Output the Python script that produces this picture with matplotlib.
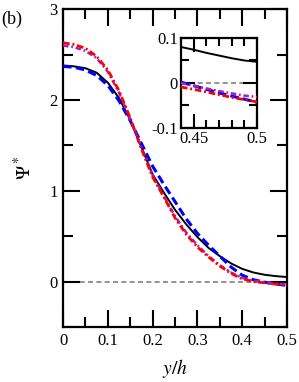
import numpy as np
import matplotlib
matplotlib.use('Agg')
import matplotlib.pyplot as plt
from matplotlib.ticker import MultipleLocator

plt.rcParams['font.family'] = ['Liberation Serif', 'DejaVu Serif']
plt.rcParams['mathtext.fontset'] = 'stix'

# ---- data ----------------------------------------------------------------------
y_h = [0.0, 0.025, 0.05, 0.075, 0.1, 0.125, 0.15, 0.175, 0.2, 0.225, 0.25,
       0.275, 0.3, 0.325, 0.35, 0.375, 0.4, 0.425, 0.45, 0.475, 0.5]

psi_black = [2.38, 2.37, 2.35, 2.30, 2.19, 2.02, 1.78, 1.48, 1.18, 0.98, 0.79,
             0.63, 0.49, 0.37, 0.28, 0.20, 0.14, 0.10, 0.075, 0.06, 0.05]
psi_blue = [2.37, 2.36, 2.33, 2.27, 2.16, 1.99, 1.77, 1.52, 1.27, 1.07, 0.88,
            0.69, 0.53, 0.40, 0.28, 0.16, 0.07, 0.02, -0.006, -0.026, -0.042]
psi_red = [2.63, 2.61, 2.57, 2.48, 2.33, 2.10, 1.80, 1.46, 1.15, 0.93, 0.70,
           0.52, 0.38, 0.27, 0.17, 0.09, 0.03, 0.0, -0.014, -0.029, -0.042]
psi_purple = [2.60, 2.58, 2.54, 2.46, 2.31, 2.08, 1.79, 1.47, 1.17, 0.94, 0.72,
              0.54, 0.40, 0.28, 0.18, 0.10, 0.04, 0.01, -0.006, -0.02, -0.031]

# inset (zoom near the centreline)
y_h_in = [0.44, 0.45, 0.46, 0.47, 0.48, 0.49, 0.50]
in_black = [0.080, 0.074, 0.067, 0.061, 0.055, 0.050, 0.047]
in_blue = [0.002, -0.006, -0.014, -0.022, -0.029, -0.036, -0.043]
in_red = [-0.009, -0.014, -0.020, -0.026, -0.032, -0.037, -0.042]
in_purple = [0.0, -0.006, -0.012, -0.018, -0.023, -0.028, -0.031]

purple = '#a020c0'


def draw_lines(ax, x, k, b, p, r):
    ax.axhline(0, color='gray', lw=1.2, dashes=(3, 2), zorder=1)
    ax.plot(x, k, color='black', lw=1.4, zorder=3)
    ax.plot(x, b, color='blue', lw=2.2, dashes=(2.8, 1.4), zorder=4)
    ax.plot(x, p, color=purple, lw=1.8, dashes=(2.2, 1.1, 0.7, 1.1), zorder=5)
    ax.plot(x, r, color='red', lw=2.0, dashes=(2.4, 1.0, 0.7, 1.0), zorder=6)


def style_ticks(ax):
    ax.tick_params(which='both', direction='in', top=True, right=True,
                   width=1.5, labelsize=12, pad=4)
    ax.tick_params(which='major', length=12)
    ax.tick_params(which='minor', length=7)
    for s in ax.spines.values():
        s.set_linewidth(1.6)


fig = plt.figure(figsize=(2.99, 3.82), dpi=100)
ax = fig.add_axes([0.211, 0.144, 0.749, 0.832])
draw_lines(ax, y_h, psi_black, psi_blue, psi_purple, psi_red)
ax.set_xlim(0, 0.5)
ax.set_ylim(-0.5, 3)
ax.xaxis.set_minor_locator(MultipleLocator(0.05))
ax.yaxis.set_minor_locator(MultipleLocator(0.5))
ax.set_xticks([0, 0.1, 0.2, 0.3, 0.4, 0.5])
ax.set_xticklabels(['0', '0.1', '0.2', '0.3', '0.4', '0.5'])
ax.set_yticks([0, 1, 2, 3])
ax.set_yticklabels(['0', '1', '2', '3'])
style_ticks(ax)
ax.set_xlabel('$y/h$', fontsize=14, labelpad=6)
ax.set_ylabel(r'$\Psi^*$', fontsize=14, labelpad=10)
fig.text(0.003, 0.972, '(b)', fontsize=13, va='top', ha='left')

axin = fig.add_axes([0.605, 0.665, 0.255, 0.2355])
draw_lines(axin, y_h_in, in_black, in_blue, in_purple, in_red)
axin.set_xlim(0.44, 0.5)
axin.set_ylim(-0.1, 0.1)
axin.set_xticks([0.45, 0.5])
axin.set_xticklabels(['0.45', '0.5'])
axin.xaxis.set_minor_locator(MultipleLocator(0.01))
axin.set_yticks([-0.1, 0, 0.1])
axin.set_yticklabels(['-0.1', '0', '0.1'])
axin.yaxis.set_minor_locator(MultipleLocator(0.05))
style_ticks(axin)
axin.tick_params(which='major', length=10)
axin.tick_params(which='minor', length=6)
axin.tick_params(pad=2)

fig.savefig('out.png', dpi=100)
